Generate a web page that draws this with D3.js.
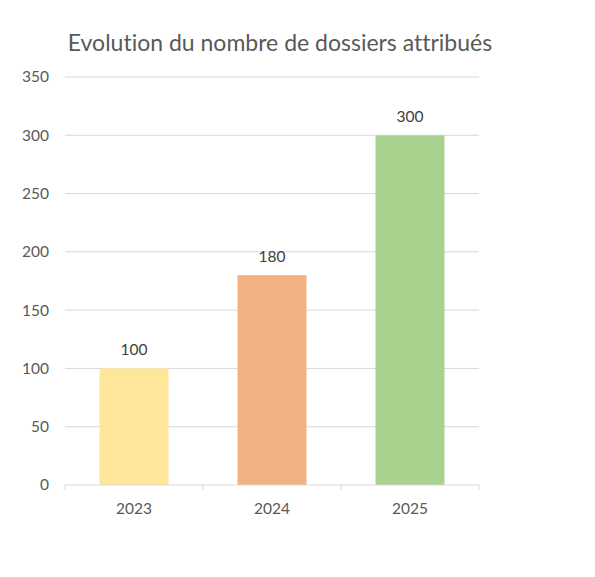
<!DOCTYPE html>
<head>
<meta charset="utf-8">
<title>Dossiers attribués</title>
<script src="https://cdn.jsdelivr.net/npm/d3@7"></script>
<style>
  body { margin: 0; background: #fff; }
  text { font-family: Lato, "Open Sans", sans-serif; font-variant-ligatures: none; }
</style>
</head>
<body>
<div id="container"></div>
<script>
// Données
const annees = ["2023", "2024", "2025"];
const dossiers = [100, 180, 300];
const couleurs = ["#FFE699", "#F4B183", "#A9D18E"];
const yTicks = [0, 50, 100, 150, 200, 250, 300, 350];

const width = 595, height = 577;
const marginLeft = 65, marginRight = 116, marginTop = 77, marginBottom = 92;

const svg = d3.select("#container")
  .append("svg")
  .attr("width", width)
  .attr("height", height);

// Échelles
const x = d3.scaleBand()
  .domain(annees)
  .range([marginLeft, width - marginRight])
  .paddingInner(0.5)
  .paddingOuter(0.25);

const y = d3.scaleLinear()
  .domain([0, 350])
  .range([height - marginBottom, marginTop]);

// Titre
svg.append("text")
  .attr("x", 280)
  .attr("y", 51)
  .attr("text-anchor", "middle")
  .attr("font-size", 23)
  .attr("fill", "#595959")
  .text("Evolution du nombre de dossiers attribués");

// Grille
svg.append("g")
  .selectAll("line")
  .data(yTicks.filter(d => d > 0))
  .join("line")
  .attr("x1", marginLeft)
  .attr("x2", width - marginRight)
  .attr("y1", d => y(d))
  .attr("y2", d => y(d))
  .attr("stroke", "#d9d9d9")
  .attr("stroke-width", 1);

// Axe Y (labels seulement)
const yAxis = svg.append("g")
  .attr("transform", `translate(${marginLeft - 16},0)`)
  .call(d3.axisLeft(y).tickValues(yTicks).tickSize(0).tickPadding(0));
yAxis.select(".domain").remove();
yAxis.selectAll("text")
  .attr("font-size", 15.5)
  .attr("fill", "#595959")
  .style("font-family", "Lato, 'Open Sans', sans-serif");

// Barres
svg.append("g")
  .selectAll("rect")
  .data(annees)
  .join("rect")
  .attr("x", d => x(d))
  .attr("width", x.bandwidth())
  .attr("y", (d, i) => y(dossiers[i]))
  .attr("height", (d, i) => y(0) - y(dossiers[i]))
  .attr("fill", (d, i) => couleurs[i]);

// Étiquettes de valeurs
svg.append("g")
  .selectAll("text")
  .data(annees)
  .join("text")
  .attr("x", d => x(d) + x.bandwidth() / 2)
  .attr("y", (d, i) => y(dossiers[i]) - 13)
  .attr("text-anchor", "middle")
  .attr("font-size", 15.5)
  .attr("fill", "#404040")
  .text((d, i) => dossiers[i]);

// Axe X
const step = x.step();
const xAxis = svg.append("g")
  .attr("transform", `translate(0,${y(0)})`);
xAxis.append("line")
  .attr("x1", marginLeft)
  .attr("x2", width - marginRight)
  .attr("stroke", "#d9d9d9");
xAxis.selectAll(".tick-mark")
  .data(d3.range(annees.length + 1))
  .join("line")
  .attr("class", "tick-mark")
  .attr("x1", i => marginLeft + i * step)
  .attr("x2", i => marginLeft + i * step)
  .attr("y1", 0)
  .attr("y2", 5)
  .attr("stroke", "#d9d9d9");
xAxis.selectAll(".lbl")
  .data(annees)
  .join("text")
  .attr("class", "lbl")
  .attr("x", d => x(d) + x.bandwidth() / 2)
  .attr("y", 29)
  .attr("text-anchor", "middle")
  .attr("font-size", 15.5)
  .attr("fill", "#595959")
  .text(d => d);
</script>
</body>
